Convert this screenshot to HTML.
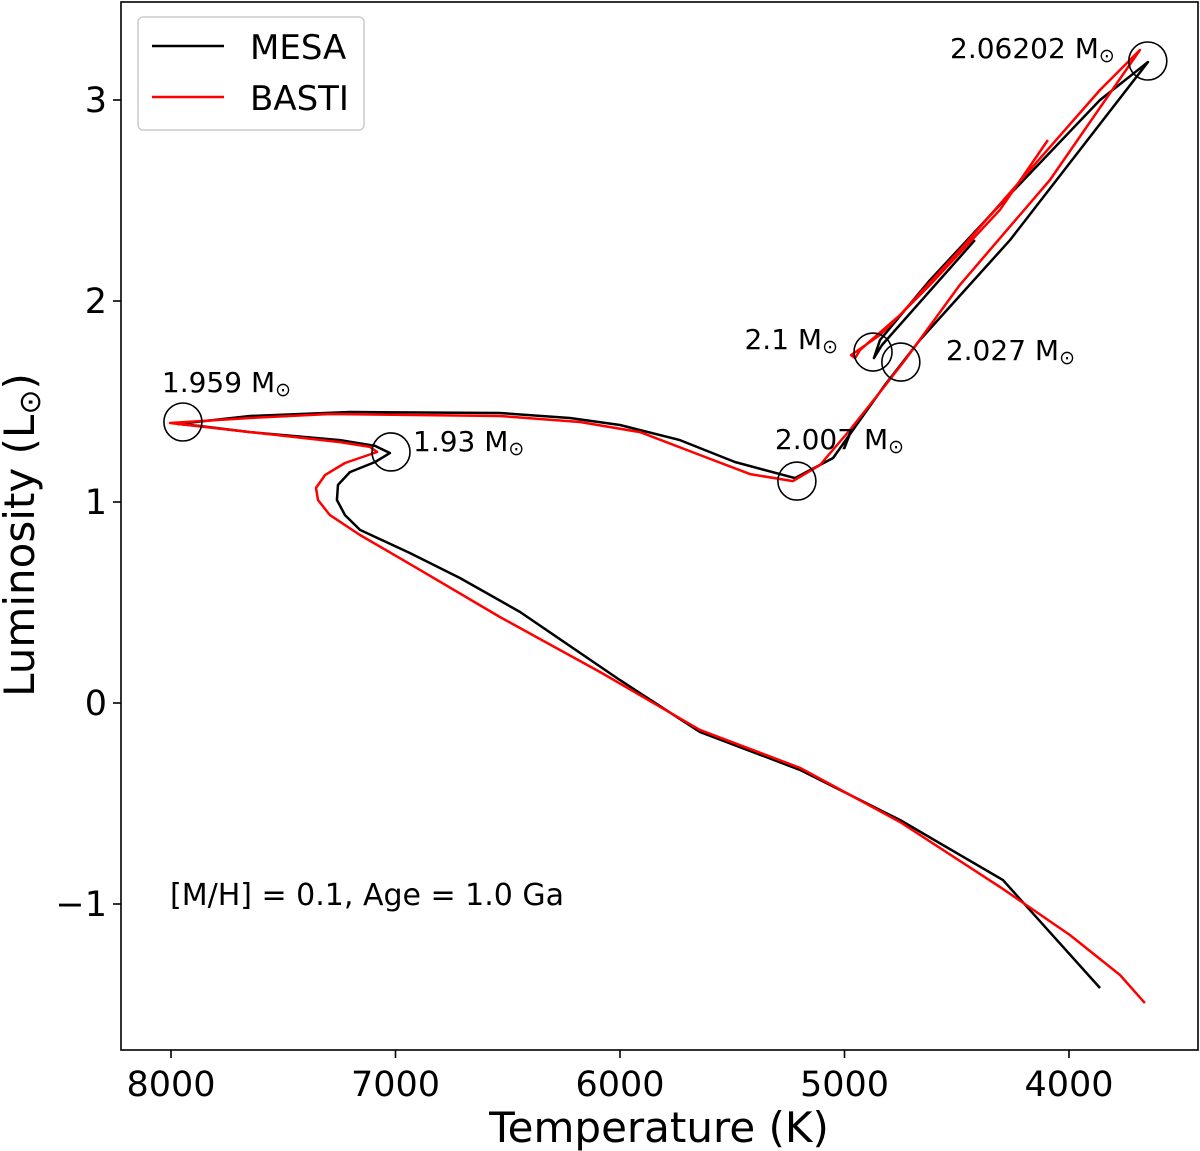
<!DOCTYPE html>
<html><head><meta charset="utf-8"><style>
html,body{margin:0;padding:0;background:#fff;}
svg{display:block;font-family:"DejaVu Sans","Liberation Sans",sans-serif;}
</style></head><body>
<svg id="chart" width="1200" height="1151" viewBox="0 0 1200 1151">
<rect x="121" y="2" width="1077" height="1048" fill="none" stroke="#000" stroke-width="1.6"/>
<g id="ticks"></g>
<g id="series"></g>
<g id="marks"></g>
<text x="659" y="1142" font-size="42" text-anchor="middle">Temperature (K)</text>
<text transform="translate(34,535) rotate(-90)" font-size="42" text-anchor="middle">Luminosity (L<tspan font-size="30" dy="6">⊙</tspan><tspan dy="-6">)</tspan></text>
<text x="170" y="905" font-size="30">[M/H] = 0.1, Age = 1.0 Ga</text>
<g>
<rect x="138" y="17" width="226" height="113" rx="5" fill="#fff" stroke="#ccc" stroke-width="1.5"/>
<line x1="152" y1="46" x2="224" y2="46" stroke="#000" stroke-width="2.5"/>
<text x="250" y="59" font-size="34">MESA</text>
<line x1="152" y1="97" x2="224" y2="97" stroke="#f00" stroke-width="2.5"/>
<text x="250" y="110" font-size="34">BASTI</text>
</g>
</svg>
<script>
const xTicks=[8000,7000,6000,5000,4000];
const yTicks=[3,2,1,0,-1];
const mesaT=[3862,4294,4753,5198,5644,6000,6446,6713,6935,7158,7225,7261,7256,7203,7091,7025,7091,7247,7648,7871,7969,7648,7203,6535,6223,6000,5733,5488,5221,5051,4931,4820,4664,4263,3648,3862,4308,4619,4842,4869,4833,4419];
const mesaL=[-1.418,-0.881,-0.582,-0.333,-0.144,0.114,0.453,0.622,0.746,0.861,0.935,1.010,1.085,1.149,1.199,1.244,1.279,1.308,1.348,1.378,1.388,1.428,1.448,1.443,1.418,1.383,1.308,1.199,1.119,1.219,1.408,1.582,1.806,2.303,3.189,3.0,2.478,2.104,1.806,1.716,1.781,2.303];
const bastiT=[3662,3773,3996,4308,4753,5198,5644,6089,6535,6891,7158,7292,7345,7354,7314,7225,7082,7114,7247,7648,8004,7648,7292,6535,6178,5911,5644,5421,5230,5109,4976,4842,4731,4486,4085,3684,3862,4174,4486,4753,4931,4953,4971,4842,4619,4308,4094];
const bastiL=[-1.493,-1.353,-1.154,-0.915,-0.592,-0.323,-0.134,0.154,0.428,0.662,0.836,0.935,1.010,1.070,1.134,1.194,1.249,1.274,1.298,1.348,1.393,1.418,1.438,1.428,1.398,1.348,1.234,1.139,1.104,1.184,1.358,1.547,1.706,2.080,2.602,3.249,3.050,2.652,2.254,1.930,1.756,1.716,1.731,1.831,2.080,2.453,2.801];
const markT=[7947,7020,5212,4873,4749,3649];
const markL=[1.398,1.249,1.104,1.746,1.696,3.194];
const markLabels=["1.959","1.93","2.007","2.1","2.027","2.06202"];
const labelDx=[-21,22,-22,-35,45,-33];
const labelDy=[-30,-1,-32,-3,-2,-3];
const labelAnchor=["start","start","start","end","start","end"];

const xS=t=>171+(8000-t)*0.2245;
const yS=l=>703-l*201;
const NS='http://www.w3.org/2000/svg';
const mk=(tag,attrs,parent)=>{const e=document.createElementNS(NS,tag);for(const k in attrs)e.setAttribute(k,attrs[k]);parent.appendChild(e);return e;};
const ticks=document.getElementById('ticks');
xTicks.forEach(t=>{
  const l=mk('line',{x1:xS(t),x2:xS(t),y1:1050,y2:1058,stroke:'#000','stroke-width':1.6},ticks);
  
  
  const tx=mk('text',{x:xS(t),y:1096,'font-size':35,'text-anchor':'middle'},ticks);
  tx.textContent=t;
  
  
});
yTicks.forEach(v=>{
  const l=mk('line',{x1:113,x2:121,y1:yS(v),y2:yS(v),stroke:'#000','stroke-width':1.6},ticks);
  
  
  const tx=mk('text',{x:107,y:yS(v)+12,'font-size':35,'text-anchor':'end'},ticks);
  tx.textContent=v<0?'\u2212'+(-v):String(v);
  
  
});
const series=document.getElementById('series');
const pathD=(T,L)=>T.map((t,i)=>(i?'L':'M')+xS(t).toFixed(1)+' '+yS(L[i]).toFixed(1)).join(' ');
const pm=mk('path',{d:pathD(mesaT,mesaL),fill:'none',stroke:'#000','stroke-width':2.5,'stroke-linejoin':'round'},series);


const pb=mk('path',{d:pathD(bastiT,bastiL),fill:'none',stroke:'#f00','stroke-width':2.5,'stroke-linejoin':'round'},series);


const marks=document.getElementById('marks');
markT.forEach((t,i)=>{
  const c=mk('circle',{cx:xS(t),cy:yS(markL[i]),r:19,fill:'none',stroke:'#000','stroke-width':1.6},marks);
  
  
  const tx=mk('text',{x:xS(t)+labelDx[i],y:yS(markL[i])+labelDy[i],'font-size':28,'text-anchor':labelAnchor[i]},marks);
  tx.textContent=markLabels[i]+' M';
  const sp=mk('tspan',{'font-size':19,dy:4},tx);
  sp.textContent='⊙';
  
  
});
</script>
</body></html>
